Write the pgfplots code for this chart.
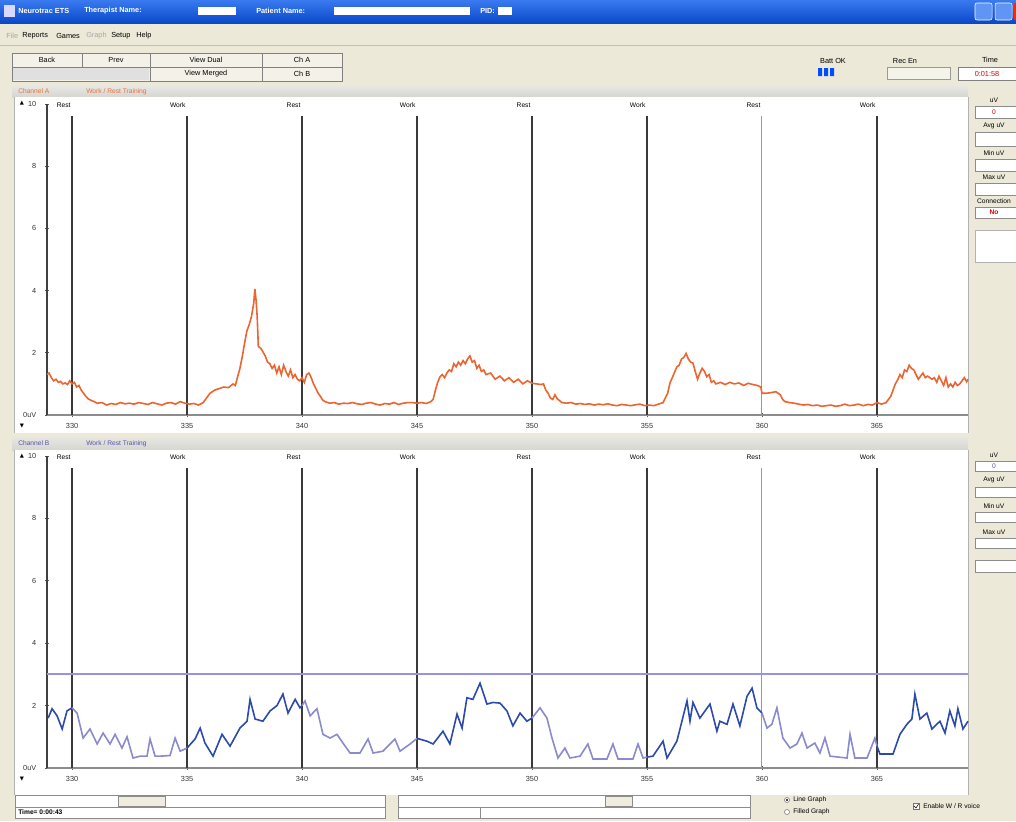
\documentclass[border=0pt]{standalone}
\usepackage{fontspec}
\setmainfont{Liberation Sans}
\newfontfamily\sym{DejaVu Sans}
\usepackage{pgfplots}
\pgfplotsset{compat=1.18}
\definecolor{xpbg}{HTML}{ECE9D8}
\definecolor{titleA}{HTML}{3A7AF0}
\definecolor{titleB}{HTML}{0A48C8}
\definecolor{hdr}{HTML}{D6D6D0}
\definecolor{orangeemg}{HTML}{EC6430}
\definecolor{bluedark}{HTML}{2C4AAA}
\definecolor{bluelight}{HTML}{8A8ACC}
\definecolor{thresh}{HTML}{9494E4}
\definecolor{vline}{HTML}{3A3A3A}
\definecolor{chA}{HTML}{E8703C}
\definecolor{chB}{HTML}{5555AA}
\newcommand\ui{\fontsize{5.5}{6.5}\selectfont}
\newcommand\uis{\fontsize{5}{6}\selectfont}

\pgfplotsset{emg/.style={
  scale only axis, width=690.75pt, clip=false,
  xmin=328.91, xmax=368.96, ymin=0, ymax=10,
  axis x line=bottom, axis y line=left,
  axis line style={-},
  x axis line style={color=black!45, line width=0.8pt},
  y axis line style={color=black!75, line width=0.9pt},
  xtick={330,335,...,365},
  minor xtick={329,...,368},
  ytick={0,2,...,10},
  minor ytick={1,3,...,9},
  yticklabels={0uV,2,4,6,8,10},
  tick style={color=black!65, line width=0.6pt},
  major tick length=3pt, minor tick length=2pt,
  tick align=center,
  ticklabel style={font=\ui, text=black!80},
  /pgf/number format/assume math mode=true,
  /pgf/number format/1000 sep={},
  xticklabel style={yshift=-1.5pt},
  yticklabel style={xshift=-3pt},
}}

\begin{document}
\begin{tikzpicture}
\useasboundingbox (0,0) rectangle (762pt,-615.75pt);
\begin{scope}[x=0.75pt,y=-0.75pt]
\fill[xpbg] (0,0) rectangle (1016,821);
% title bar
\shade[top color=titleA, bottom color=titleB] (0,0) rectangle (1016,23);
\fill[white!85!blue] (4,5) rectangle (15,17);
\node[anchor=west,text=white,font=\ui\bfseries,inner sep=0] at (18,11) {Neurotrac ETS};
\node[anchor=west,text=white,font=\ui\bfseries,inner sep=0] at (84,11) {Therapist Name:};
\fill[white] (198,7) rectangle (236,15);
\node[anchor=west,text=white,font=\ui\bfseries,inner sep=0] at (256,11) {Patient Name:};
\fill[white] (334,7) rectangle (470,15);
\node[anchor=west,text=white,font=\ui\bfseries,inner sep=0] at (480,11) {PID:};
\fill[white] (498,7) rectangle (512,15);
\filldraw[fill=titleA!80!white,draw=white,rounded corners=1.5] (975,3) rectangle (992,20);
\filldraw[fill=titleA!80!white,draw=white,rounded corners=1.5] (995,3) rectangle (1012,20);
\fill[red!70!orange] (1014,3) rectangle (1016,20);
% menu
\node[anchor=west,font=\ui,text=black!35,inner sep=0] at (6,36) {File};
\node[anchor=west,font=\ui,inner sep=0] at (22,36) {Reports};
\node[anchor=west,font=\ui,inner sep=0] at (56,36) {Games};
\node[anchor=west,font=\ui,text=black!35,inner sep=0] at (86,36) {Graph};
\node[anchor=west,font=\ui,inner sep=0] at (111,36) {Setup};
\node[anchor=west,font=\ui,inner sep=0] at (136,36) {Help};
\draw[black!25] (0,45) -- (1016,45);
% toolbar
\draw[black!50,fill=xpbg!60!white] (12,53) rectangle (342,81);
\draw[black!50] (12,67) -- (342,67);
\foreach \xx in {82,150,262} {\draw[black!50] (\xx,53) -- (\xx,67);}
\foreach \xx in {150,262} {\draw[black!50] (\xx,67) -- (\xx,81);}
\fill[black!12] (13,68) rectangle (149,80);
\node[font=\ui] at (47,60) {Back};
\node[font=\ui] at (116,60) {Prev};
\node[font=\ui] at (206,60) {View Dual};
\node[font=\ui] at (302,60) {Ch A};
\node[font=\ui] at (206,74) {View Merged};
\node[font=\ui] at (302,74) {Ch B};
\node[font=\ui] at (833,61) {Batt OK};
\fill[blue!70!cyan] (818,68) rectangle (822,76) (824,68) rectangle (828,76) (830,68) rectangle (834,76);
\node[font=\ui] at (905,61) {Rec En};
\draw[black!40,fill=xpbg!50!white] (887,67) rectangle (950,79);
\node[font=\ui] at (990,60) {Time};
\draw[black!50,fill=white] (958,67) rectangle (1016,80);
\node[font=\ui,text=red!85!black] at (987,74) {0:01:58};
% channel headers
\shade[top color=hdr!60!white, bottom color=hdr] (12,86) rectangle (968,97);
\node[anchor=west,font=\uis,text=chA,inner sep=0] at (18,91.5) {Channel A};
\node[anchor=west,font=\uis,text=chA,inner sep=0] at (86,91.5) {Work / Rest Training};
\shade[top color=hdr!60!white, bottom color=hdr] (12,437) rectangle (968,450);
\node[anchor=west,font=\uis,text=chB,inner sep=0] at (18,443.5) {Channel B};
\node[anchor=west,font=\uis,text=chB,inner sep=0] at (86,443.5) {Work / Rest Training};
% white plot panels
\fill[white] (14,97) rectangle (968,433);
\fill[white] (14,450) rectangle (968,795);
\draw[black!30] (14,97) -- (14,433) (968,97) -- (968,433);
\draw[black!30] (14,450) -- (14,795) (968,450) -- (968,795);
\node[font=\sym\fontsize{4}{4}\selectfont] at (22,103) {▲};
\node[font=\sym\fontsize{4}{4}\selectfont] at (22,426) {▼};
\node[font=\sym\fontsize{4}{4}\selectfont] at (22,456) {▲};
\node[font=\sym\fontsize{4}{4}\selectfont] at (22,779) {▼};
% right side panels
\foreach \yy/\tx in {100/uV,126/Avg uV,153/Min uV,177/Max uV,201/Connection} {\node[font=\uis] at (994,\yy) {\tx};}
\foreach \ya/\yb in {106/118,132/146,159/171,183/195,207/218} {\draw[black!45,fill=white] (975,\ya) rectangle (1016,\yb);}
\node[font=\uis,text=red!85!black] at (994,112) {0};
\node[font=\uis,text=red!85!black,font=\uis\bfseries] at (994,212.5) {No};
\draw[black!30,fill=white] (975,230) rectangle (1016,262);
\foreach \yy/\tx in {455/uV,480/Avg uV,506/Min uV,532/Max uV} {\node[font=\uis] at (994,\yy) {\tx};}
\foreach \ya/\yb in {461/471,487/497,512/522,538/548,560/572} {\draw[black!45,fill=white] (975,\ya) rectangle (1016,\yb);}
\node[font=\uis,text=chB] at (994,466) {0};
% scrollbars
\draw[black!45,fill=white] (15,795) rectangle (385,807);
\draw[black!45,fill=xpbg!80!white] (118,796) rectangle (165,806);
\draw[black!45,fill=white] (398,795) rectangle (750,807);
\draw[black!45,fill=xpbg!80!white] (605,796) rectangle (632,806);
\draw[black!45,fill=white] (15,807) rectangle (385,818);
\draw[black!45,fill=white] (398,807) rectangle (750,818);
\draw[black!45] (480,807) -- (480,818);
\node[anchor=west,font=\uis\bfseries,inner sep=0] at (18,812.5) {Time= 0:00:43};
\draw[black!55,fill=white] (787,800) circle (2.5);
\fill[black] (787,800) circle (1.2);
\node[anchor=west,font=\uis,inner sep=0] at (793,800) {Line Graph};
\draw[black!55,fill=white] (787,812) circle (2.5);
\node[anchor=west,font=\uis,inner sep=0] at (793,812) {Filled Graph};
\draw[black!55,fill=white] (913,803) rectangle (919,809);
\draw[black] (914,806) -- (916,808) -- (918.5,804);
\node[anchor=west,font=\uis,inner sep=0] at (923,806) {Enable W / R voice};
\end{scope}

% ---------------- Channel A ----------------
\begin{axis}[emg, at={(35.25pt,-311.25pt)}, anchor=south west, height=233.25pt]
\addplot[vline, line width=2pt] coordinates {(330,0) (330,9.6)};
\addplot[vline, line width=2pt] coordinates {(335,0) (335,9.6)};
\addplot[vline, line width=2pt] coordinates {(340,0) (340,9.6)};
\addplot[vline, line width=2pt] coordinates {(345,0) (345,9.6)};
\addplot[vline, line width=2pt] coordinates {(350,0) (350,9.6)};
\addplot[vline, line width=2pt] coordinates {(355,0) (355,9.6)};
\addplot[black!40, line width=0.8pt] coordinates {(360,0) (360,9.6)};
\addplot[vline, line width=2pt] coordinates {(365,0) (365,9.6)};
\addplot[orangeemg, line width=1.2pt] coordinates {
(328.91,1.3) (329.0,1.35) (329.1,1.2) (329.2,1.1) (329.3,1.15) (329.4,1.05) (329.5,1.08) (329.6,1.0) (329.7,1.03) (329.8,0.98) (329.9,1.1) (330.0,1.0) (330.1,1.05) (330.2,0.9) (330.3,0.95) (330.4,0.8) (330.5,0.7) (330.6,0.6) (330.7,0.52) (330.8,0.48) (330.9,0.45)
(331.1,0.38) (331.3,0.4) (331.5,0.32) (331.7,0.37) (331.9,0.34) (332.1,0.4) (332.3,0.36) (332.5,0.38) (332.7,0.35) (332.9,0.4) (333.1,0.37) (333.3,0.34) (333.5,0.4) (333.7,0.36) (333.9,0.32) (334.1,0.38) (334.3,0.4) (334.5,0.35) (334.7,0.43) (334.9,0.38) (335.1,0.35) (335.3,0.37) (335.5,0.32) (335.7,0.4)
(335.9,0.6) (336.0,0.7) (336.2,0.8) (336.4,0.85) (336.6,0.9) (336.8,0.88) (337.0,1.0) (337.1,0.95) (337.2,1.23) (337.3,1.5) (337.4,1.87) (337.5,2.3) (337.6,2.7) (337.7,2.9) (337.8,3.16) (337.9,3.6) (337.95,4.05) (338.0,3.7) (338.05,3.16) (338.1,2.2) (338.2,2.15) (338.3,2.03) (338.4,1.9) (338.5,1.7) (338.6,1.65) (338.7,1.5) (338.8,1.6) (338.9,1.35) (339.0,1.55) (339.1,1.3) (339.2,1.6) (339.3,1.4) (339.4,1.25) (339.5,1.45) (339.6,1.2) (339.7,1.3) (339.8,1.15) (339.9,1.1) (340.0,1.2) (340.1,1.05) (340.2,1.3) (340.3,1.35) (340.4,1.2) (340.5,1.0) (340.6,0.85) (340.7,0.7) (340.8,0.6) (340.9,0.48) (341.0,0.43)
(341.2,0.38) (341.4,0.4) (341.6,0.35) (341.8,0.38) (342.0,0.37) (342.2,0.4) (342.4,0.36) (342.6,0.34) (342.8,0.38) (343.0,0.4) (343.2,0.35) (343.4,0.32) (343.6,0.37) (343.8,0.35) (344.0,0.4) (344.2,0.34) (344.4,0.38) (344.6,0.4) (344.8,0.4) (345.0,0.38) (345.2,0.4) (345.4,0.37) (345.6,0.43) (345.7,0.5)
(345.8,0.8) (345.9,1.05) (346.0,1.23) (346.1,1.3) (346.2,1.2) (346.3,1.35) (346.4,1.45) (346.5,1.4) (346.6,1.65) (346.7,1.55) (346.8,1.7) (346.9,1.6) (347.0,1.75) (347.1,1.65) (347.2,1.8) (347.3,1.9) (347.4,1.7) (347.5,1.75) (347.6,1.5) (347.7,1.6) (347.8,1.4) (347.9,1.45) (348.0,1.3) (348.2,1.35) (348.4,1.15) (348.6,1.25) (348.8,1.1) (349.0,1.2) (349.2,1.05) (349.4,1.15) (349.6,1.0) (349.8,1.1) (350.0,1.02) (350.2,1.0) (350.4,0.98) (350.5,1.0) (350.6,0.8) (350.7,0.7) (350.8,0.55) (350.9,0.5) (351.0,0.65) (351.1,0.52) (351.3,0.4)
(351.5,0.38) (351.7,0.4) (351.9,0.35) (352.1,0.37) (352.3,0.34) (352.5,0.36) (352.7,0.32) (352.9,0.35) (353.1,0.33) (353.3,0.36) (353.5,0.32) (353.7,0.3) (353.9,0.34) (354.1,0.32) (354.3,0.3) (354.5,0.33) (354.7,0.35) (354.9,0.3) (355.1,0.32) (355.3,0.3) (355.5,0.35) (355.7,0.4)
(355.9,0.7) (356.0,1.03) (356.1,1.2) (356.3,1.55) (356.4,1.6) (356.5,1.8) (356.6,1.85) (356.7,1.98) (356.8,1.8) (356.9,1.7) (357.0,1.67) (357.1,1.4) (357.2,1.15) (357.3,1.35) (357.4,1.5) (357.5,1.4) (357.6,1.23) (357.7,1.3) (357.8,1.05) (357.9,1.1) (358.0,1.0) (358.2,1.05) (358.4,0.98) (358.6,1.05) (358.8,1.0) (359.0,1.03) (359.2,0.95) (359.4,1.02) (359.6,0.98) (359.8,0.95) (359.95,0.9) (360.0,0.7) (360.2,0.7) (360.4,0.72) (360.6,0.75) (360.8,0.65) (360.9,0.5) (361.0,0.43)
(361.2,0.4) (361.4,0.38) (361.6,0.35) (361.8,0.32) (362.0,0.34) (362.2,0.3) (362.4,0.32) (362.6,0.28) (362.8,0.3) (363.0,0.32) (363.2,0.28) (363.4,0.3) (363.6,0.35) (363.8,0.3) (364.0,0.32) (364.2,0.35) (364.4,0.3) (364.6,0.34) (364.8,0.32) (365.0,0.4) (365.2,0.35) (365.4,0.4)
(365.6,0.6) (365.8,1.0) (365.9,1.13) (366.0,1.3) (366.1,1.2) (366.2,1.45) (366.3,1.4) (366.4,1.6) (366.5,1.5) (366.6,1.45) (366.7,1.3) (366.8,1.15) (366.9,1.25) (367.0,1.35) (367.1,1.2) (367.2,1.25) (367.4,1.15) (367.5,1.2) (367.6,1.05) (367.7,1.25) (367.8,1.1) (367.9,0.95) (368.0,1.2) (368.1,0.9) (368.2,1.0) (368.3,0.9) (368.4,1.05) (368.5,0.95) (368.6,1.0) (368.7,1.1) (368.8,1.2) (368.9,1.07) (368.96,1.15)
};
\foreach \xx/\lab in {330/Rest,335/Work,340/Rest,345/Work,350/Rest,355/Work,360/Rest,365/Work} {
  \edef\tmp{\noexpand\node[anchor=east,font=\noexpand\uis,inner sep=1pt] at (axis cs:\xx,9.95) {\lab};}\tmp
}
\end{axis}

% ---------------- Channel B ----------------
\begin{axis}[emg, at={(35.25pt,-576pt)}, anchor=south west, height=234pt]
\addplot[vline, line width=2pt] coordinates {(330,0) (330,9.6)};
\addplot[vline, line width=2pt] coordinates {(335,0) (335,9.6)};
\addplot[vline, line width=2pt] coordinates {(340,0) (340,9.6)};
\addplot[vline, line width=2pt] coordinates {(345,0) (345,9.6)};
\addplot[vline, line width=2pt] coordinates {(350,0) (350,9.6)};
\addplot[vline, line width=2pt] coordinates {(355,0) (355,9.6)};
\addplot[black!40, line width=0.8pt] coordinates {(360,0) (360,9.6)};
\addplot[vline, line width=2pt] coordinates {(365,0) (365,9.6)};
\addplot[thresh, line width=1.5pt] coordinates {(328.91,3) (368.96,3)};
% work (dark)
\addplot[bluedark, line width=1.2pt] coordinates {(328.96,1.6) (329.13,1.9) (329.35,1.67) (329.57,1.25) (329.78,1.83) (330.0,1.93)};
% rest (light)
\addplot[bluelight, line width=1.2pt] coordinates {(330.0,1.93) (330.22,1.76) (330.48,0.96) (330.78,1.25) (331.09,0.77) (331.35,1.12) (331.65,0.77) (331.87,1.08) (332.17,0.64) (332.39,1.0) (332.65,0.32) (332.96,0.38) (333.26,0.38) (333.39,0.93) (333.61,0.38) (333.83,0.38) (334.26,0.4) (334.48,0.96) (334.7,0.54) (335.0,0.64)};
\addplot[bluedark, line width=1.2pt] coordinates {(335.0,0.64) (335.35,0.93) (335.57,1.28) (335.78,0.8) (336.13,0.38) (336.52,1.08) (336.87,0.7) (337.3,1.28) (337.61,1.5) (337.74,2.2) (337.96,1.57) (338.3,1.5) (338.61,1.83) (338.91,2.0) (339.17,2.37) (339.39,1.76) (339.7,2.2) (339.91,1.93) (340.0,2.0)};
\addplot[bluelight, line width=1.2pt] coordinates {(340.0,2.0) (340.13,2.15) (340.35,1.67) (340.65,1.9) (340.91,1.08) (341.22,0.96) (341.52,1.08) (341.78,0.8) (342.09,0.48) (342.52,0.48) (342.87,0.93) (343.09,0.48) (343.52,0.54) (344.04,0.93) (344.26,0.54) (344.7,0.77) (345.0,0.95)};
\addplot[bluedark, line width=1.2pt] coordinates {(345.0,0.95) (345.43,0.86) (345.7,0.77) (346.13,1.18) (346.43,0.77) (346.74,1.73) (346.96,1.28) (347.17,2.25) (347.43,2.2) (347.74,2.72) (348.04,2.05) (348.3,2.1) (348.61,2.08) (348.91,1.83) (349.17,1.35) (349.48,1.76) (349.78,1.5) (350.0,1.6)};
\addplot[bluelight, line width=1.2pt] coordinates {(350.0,1.6) (350.35,1.93) (350.65,1.6) (350.87,0.96) (351.13,0.32) (351.43,0.64) (351.65,0.32) (352.09,0.38) (352.43,0.77) (352.65,0.29) (353.26,0.29) (353.52,0.77) (353.74,0.29) (354.39,0.29) (354.61,0.77) (354.83,0.32) (355.0,0.35)};
\addplot[bluedark, line width=1.2pt] coordinates {(355.0,0.35) (355.26,0.38) (355.7,0.86) (355.87,0.32) (356.3,0.86) (356.52,1.5) (356.74,2.15) (356.87,1.5) (357.0,2.1) (357.3,1.6) (357.74,2.05) (358.04,1.18) (358.17,1.5) (358.48,1.4) (358.74,2.05) (359.04,1.35) (359.35,2.3) (359.57,2.56) (359.78,1.93) (360.0,1.76)};
\addplot[bluelight, line width=1.2pt] coordinates {(360.0,1.76) (360.22,1.28) (360.43,1.4) (360.65,1.93) (360.91,0.96) (361.22,0.64) (361.52,0.77) (361.74,1.12) (361.96,0.64) (362.3,0.8) (362.52,0.48) (362.74,0.96) (362.96,0.38) (363.7,0.32) (363.83,1.08) (364.04,0.32) (364.57,0.32) (364.91,0.96) (365.0,0.7)};
\addplot[bluedark, line width=1.2pt] coordinates {(365.0,0.7) (365.13,0.45) (365.7,0.45) (366.0,1.08) (366.3,1.4) (366.52,1.57) (366.65,2.37) (366.87,1.57) (367.17,1.76) (367.39,1.25) (367.74,1.5) (367.96,1.12) (368.17,1.83) (368.39,1.35) (368.52,1.9) (368.74,1.25) (368.96,1.5)};
\foreach \xx/\lab in {330/Rest,335/Work,340/Rest,345/Work,350/Rest,355/Work,360/Rest,365/Work} {
  \edef\tmp{\noexpand\node[anchor=east,font=\noexpand\uis,inner sep=1pt] at (axis cs:\xx,9.95) {\lab};}\tmp
}
\end{axis}
\end{tikzpicture}
\end{document}
